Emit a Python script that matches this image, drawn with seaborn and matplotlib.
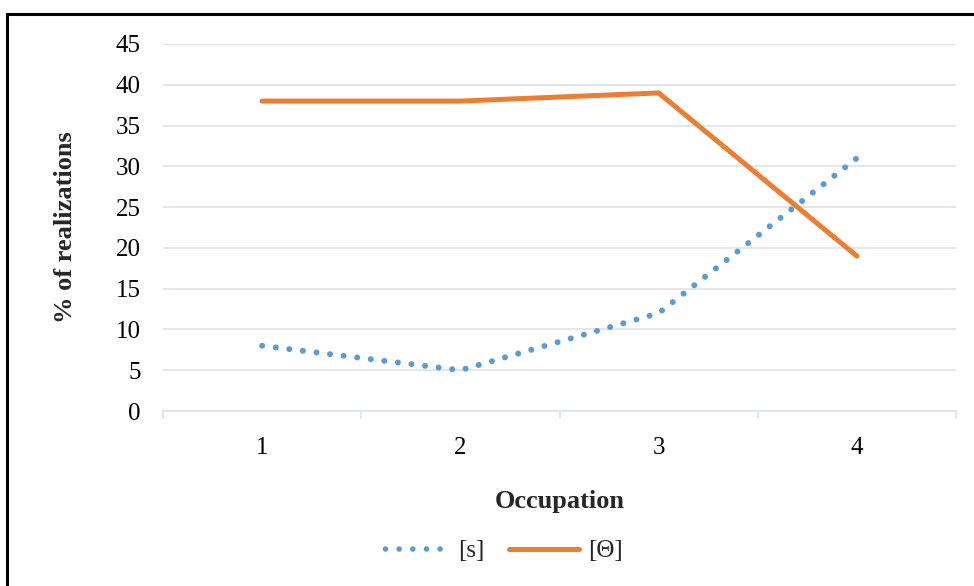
import matplotlib
matplotlib.use("Agg")
import matplotlib.pyplot as plt
import seaborn as sns
import pandas as pd
from matplotlib.patches import Rectangle

occupation = [1, 2, 3, 4]
s_values = [8, 5, 12, 31]
theta_values = [38, 38, 39, 19]
series_names = ["[s]", "[Θ]"]
y_ticks = [0, 5, 10, 15, 20, 25, 30, 35, 40, 45]

df = pd.DataFrame({
    "Occupation": occupation * 2,
    "value": s_values + theta_values,
    "series": [series_names[0]] * 4 + [series_names[1]] * 4,
})

sns.set_theme(style="white")
plt.rcParams["font.family"] = ["Liberation Serif", "DejaVu Serif"]

fig = plt.figure(figsize=(9.74, 5.86), dpi=100)
ax = fig.add_axes([163 / 974, 1 - 411 / 586, (956 - 163) / 974, (411 - 44) / 586])

palette = {"[s]": "#5B9BD5", "[Θ]": "#ED7D31"}
sns.lineplot(data=df, x="Occupation", y="value", hue="series", palette=palette,
             ax=ax, legend=False, sort=False)

lw = 3.6
dot_lw = 4.3
dot_dashes = (0.01, 2.28)
s_line, t_line = ax.lines[0], ax.lines[1]
s_line.set_linewidth(dot_lw)
s_line.set_dashes(dot_dashes)
s_line.set_dash_capstyle("round")
t_line.set_linewidth(lw)
t_line.set_solid_capstyle("round")
t_line.set_solid_joinstyle("round")

ax.set_xlim(0.5, 4.5)
ax.set_ylim(0, 45)
ax.set_yticks(y_ticks)
ax.set_xticks(occupation)
ax.set_xticklabels([str(o) for o in occupation])
ax.yaxis.grid(True, color="#E1E4E9", linewidth=1.3)
ax.xaxis.grid(False)
for side in ["top", "right", "left"]:
    ax.spines[side].set_visible(False)
ax.spines["bottom"].set_color("#E1E4E9")
ax.spines["bottom"].set_linewidth(1.3)
ax.tick_params(axis="y", length=0, pad=16, labelsize=18, labelcolor="black")
ax.tick_params(axis="x", length=0, pad=19, labelsize=18, labelcolor="black")

# category boundary ticks below the axis
for xb in [0.5, 1.5, 2.5, 3.5, 4.5]:
    ax.plot([xb, xb], [0, -0.8], color="#E1E4E9", lw=1.3, clip_on=False)

ax.set_xlabel("Occupation", fontsize=19, fontweight="bold", labelpad=22)
ax.set_ylabel("% of realizations", fontsize=19, fontweight="bold", labelpad=28)

handles = [
    plt.Line2D([], [], color=palette["[s]"], lw=4.0,
               linestyle=(1.3, (0.01, 2.45)), dash_capstyle="round"),
    plt.Line2D([], [], color=palette["[Θ]"], lw=lw, solid_capstyle="round"),
]
fig.legend(handles, series_names, loc="center", bbox_to_anchor=(501 / 974, 1 - 551 / 586),
           ncol=2, frameon=False, fontsize=18, handlelength=2.8, columnspacing=1.0,
           handletextpad=0.35)

fig.add_artist(Rectangle((7 / 974, -0.1), 1.2, 1 - 14 / 586 + 0.1, transform=fig.transFigure,
                         fill=False, edgecolor="black", linewidth=2.2))

fig.savefig("out.png", dpi=100)
